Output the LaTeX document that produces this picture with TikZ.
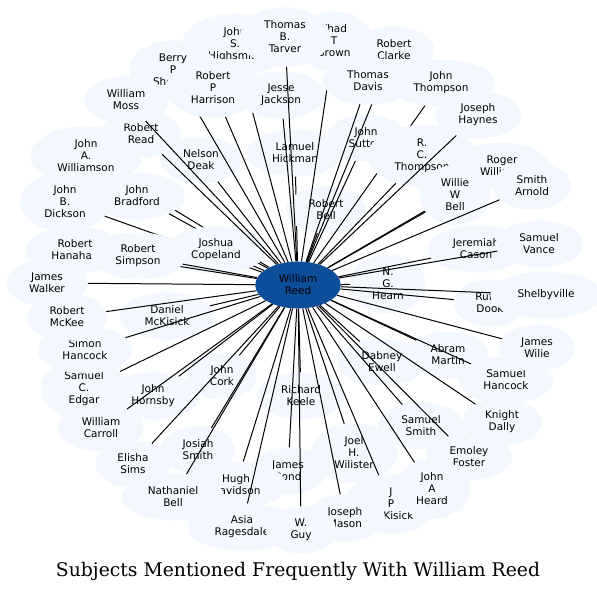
\documentclass[tikz,border=0pt]{standalone}
\usepackage{fontspec}
\usepackage{tikz}
\usetikzlibrary{shapes.geometric}
\newfontfamily\subjfont{DejaVu Sans}
\newfontfamily\captfont{DejaVu Serif}
\definecolor{hubblue}{RGB}{12,78,154}
\definecolor{subjfill}{RGB}{243,248,255}
\tikzset{subj/.style = {ellipse, fill=subjfill, align=center, inner xsep=11pt, inner ysep=5pt,
    minimum width=70pt, minimum height=47pt, font=\subjfont\fontsize{10.5}{12}\selectfont}}
\tikzset{hub/.style = {subj, fill=hubblue}}
\tikzset{link/.style = {line width=1pt}}

\begin{document}
\begin{tikzpicture}[x=1pt, y=-1pt]
      \useasboundingbox (0,0) rectangle (597,592);
      \node[hub] (reed) at (298,285) {William\\Reed};
      % inner ring first, so that later nodes cover it
      \node[subj] (williamson) at (86,156) {John\\A.\\Williamson};
      \draw[link] (reed) -- (williamson);
      \node[subj] (dickson) at (65,202) {John\\B.\\Dickson};
      \draw[link] (reed) -- (dickson);
      \node[subj] (hickman) at (295,153) {Lamuel\\Hickman};
      \draw[link] (reed) -- (hickman);
      \node[subj] (rbell) at (326,210) {Robert\\Bell};
      \draw[link] (reed) -- (rbell);
      \node[subj] (bradford) at (137,196) {John\\Bradford};
      \draw[link] (reed) -- (bradford);
      \node[subj] (copeland) at (216,250) {Joshua\\Copeland};
      \draw[link] (reed) -- (copeland);
      \node[subj] (hearn) at (388,284) {N.\\G.\\Hearn};
      \draw[link] (reed) -- (hearn);
      \node[subj] (dmckisick) at (167,316) {Daniel\\McKisick};
      \draw[link] (reed) -- (dmckisick);
      \node[subj] (cork) at (222,376) {John\\Cork};
      \draw[link] (reed) -- (cork);
      \node[subj] (keele) at (301,396) {Richard\\Keele};
      \draw[link] (reed) -- (keele);
      \node[subj] (dabney) at (382,362) {Dabney\\Ewell};
      \draw[link] (reed) -- (dabney);
      \node[subj] (deak) at (201,160) {Nelson\\Deak};
      \draw[link] (reed) -- (deak);
      \node[subj] (sutton) at (366,138) {John\\Sutton};
      \draw[link] (reed) -- (sutton);
      \node[subj] (jeremiah) at (476,249) {Jeremiah\\Cason};
      \draw[link] (reed) -- (jeremiah);
      \node[subj] (rufus) at (490,303) {Rufus\\Dook};
      \draw[link] (reed) -- (rufus);
      \node[subj] (martin) at (448,355) {Abram\\Martin};
      \draw[link] (reed) -- (martin);
      \node[subj] (hornsby) at (153,396) {John\\Hornsby};
      \draw[link] (reed) -- (hornsby);
      \node[subj] (josiah) at (198,450) {Josiah\\Smith};
      \draw[link] (reed) -- (josiah);
      \node[subj] (ssmith) at (421,426) {Samuel\\Smith};
      \draw[link] (reed) -- (ssmith);
      \node[subj] (joel) at (354,453) {Joel\\H.\\Wilister};
      \draw[link] (reed) -- (joel);
      \node[subj] (bond) at (288,471) {James\\Bond};
      \draw[link] (reed) -- (bond);
      \node[subj] (hugh) at (236,485) {Hugh\\Davidson};
      \draw[link] (reed) -- (hugh);
      \node[subj] (hanah) at (75,250) {Robert\\Hanahan};
      \draw[link] (reed) -- (hanah);
      \node[subj] (johns) at (235,45) {John\\S.\\Highsmith};
      \draw[link] (reed) -- (johns);
      \node[subj] (berry) at (173,70) {Berry\\P\\Shelton};
      \draw[link] (reed) -- (berry);
      \node[subj] (jesse) at (281,95) {Jesse\\Jackson};
      \draw[link] (reed) -- (jesse);
      \node[subj] (jthompson) at (441,83) {John\\Thompson};
      \draw[link] (reed) -- (jthompson);
      \node[subj] (clarke) at (394,50) {Robert\\Clarke};
      \draw[link] (reed) -- (clarke);
      \node[subj] (read) at (141,134) {Robert\\Read};
      \draw[link] (reed) -- (read);
      \node[subj] (roger) at (502,166) {Roger\\Williams};
      \draw[link] (reed) -- (roger);
      \node[subj] (edgar) at (84,389) {Samuel\\C.\\Edgar};
      \draw[link] (reed) -- (edgar);
      \node[subj] (asia) at (242,527) {Asia\\Ragesdale};
      \draw[link] (reed) -- (asia);
      \node[subj] (jpmckisick) at (391,504) {J\\P\\McKisick};
      \draw[link] (reed) -- (jpmckisick);
      \node[subj] (foster) at (469,457) {Emoley\\Foster};
      \draw[link] (reed) -- (foster);
      % outer ring
      \node[subj] (thad) at (334,41) {Thad\\T\\Brown};
      \draw[link] (reed) -- (thad);
      \node[subj] (tarver) at (285,37) {Thomas\\B.\\Tarver};
      \draw[link] (reed) -- (tarver);
      \node[subj] (harrison) at (213,88) {Robert\\P\\Harrison};
      \draw[link] (reed) -- (harrison);
      \node[subj] (davis) at (368,81) {Thomas\\Davis};
      \draw[link] (reed) -- (davis);
      \node[subj] (moss) at (126,100) {William\\Moss};
      \draw[link] (reed) -- (moss);
      \node[subj] (rcthompson) at (422,156) {R.\\C.\\Thompson};
      \draw[link] (reed) -- (rcthompson);
      \node[subj] (willie) at (455,195) {Willie\\W\\Bell};
      \draw[link] (reed) -- (willie);
      \node[subj] (arnold) at (532,186) {Smith\\Arnold};
      \draw[link] (reed) -- (arnold);
      \node[subj] (haynes) at (478,115) {Joseph\\Haynes};
      \draw[link] (reed) -- (haynes);
      \node[subj] (vance) at (539,244) {Samuel\\Vance};
      \draw[link] (reed) -- (vance);
      \node[subj] (simpson) at (138,256) {Robert\\Simpson};
      \draw[link] (reed) -- (simpson);
      \node[subj] (shelby) at (546,295) {Shelbyville};
      \draw[link] (reed) -- (shelby);
      \node[subj] (simonh) at (85,350) {Simon\\Hancock};
      \draw[link] (reed) -- (simonh);
      \node[subj] (mason) at (345,518) {Joseph\\Mason};
      \draw[link] (reed) -- (mason);
      \node[subj] (heard) at (432,489) {John\\A\\Heard};
      \draw[link] (reed) -- (heard);
      \node[subj] (guy) at (301,530) {W.\\Guy};
      \draw[link] (reed) -- (guy);
      \node[subj] (carroll) at (101,428) {William\\Carroll};
      \draw[link] (reed) -- (carroll);
      \node[subj] (nathaniel) at (173,497) {Nathaniel\\Bell};
      \draw[link] (reed) -- (nathaniel);
      \node[subj] (mckee) at (67,317) {Robert\\McKee};
      \draw[link] (reed) -- (mckee);
      \node[subj] (shancock) at (506,380) {Samuel\\Hancock};
      \draw[link] (reed) -- (shancock);
      \node[subj] (walker) at (47,283) {James\\Walker};
      \draw[link] (reed) -- (walker);
      \node[subj] (wilie) at (537,348) {James\\Wilie};
      \draw[link] (reed) -- (wilie);
      \node[subj] (dally) at (502,422) {Knight\\Dally};
      \draw[link] (reed) -- (dally);
      \node[subj] (sims) at (133,464) {Elisha\\Sims};
      \draw[link] (reed) -- (sims);
      \node[font=\captfont\fontsize{18.8}{22}\selectfont] (caption) at (298,571) {Subjects Mentioned Frequently With William Reed};
    \end{tikzpicture}
\end{document}
